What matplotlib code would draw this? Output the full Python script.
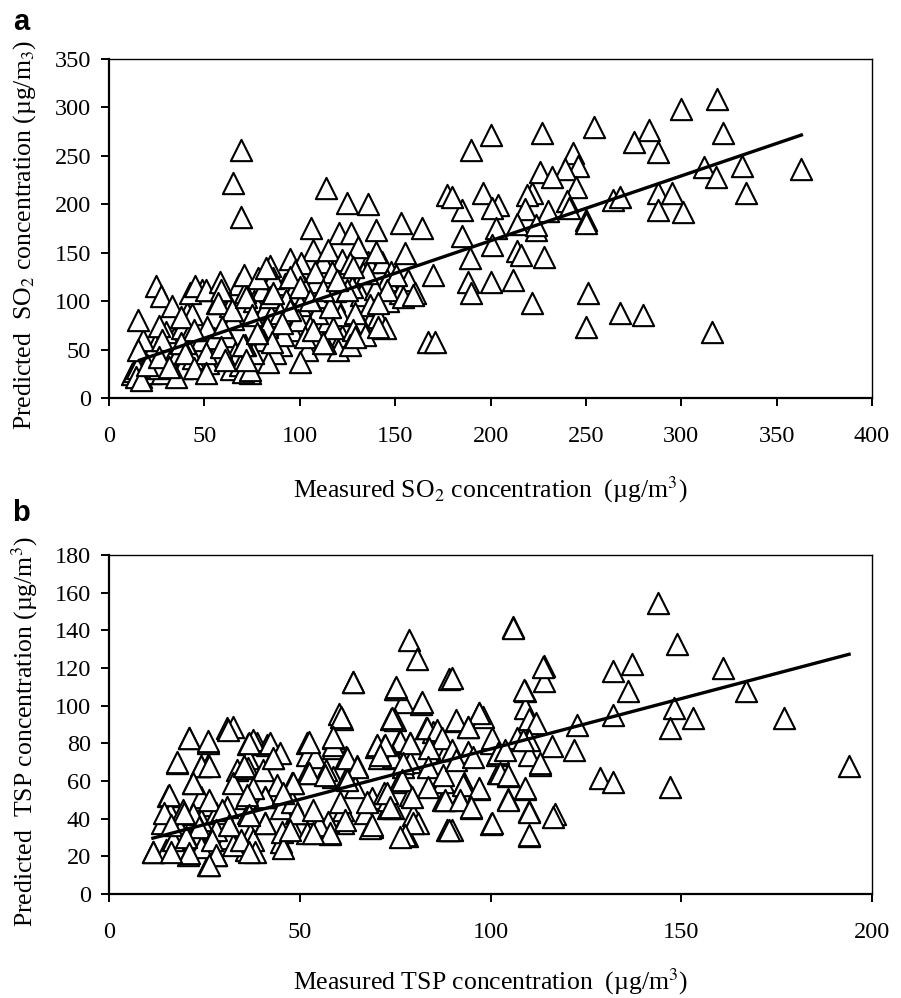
import numpy as np
import matplotlib
matplotlib.use("Agg")
import matplotlib.pyplot as plt

plt.rcParams['font.family'] = ['Liberation Serif', 'DejaVu Serif']
plt.rcParams['mathtext.fontset'] = 'stix'

# panel a: measured vs predicted SO2 (ug/m3)
so2_points = [
    # sparse / outlying points
    (69, 256), (65, 222), (69, 187), (114, 217), (125, 201), (136, 200), (106, 175),
    (140, 173), (153, 181), (164, 175), (170, 127), (167, 58), (171, 58), (177, 210),
    (190, 256), (200, 272), (227, 274), (254, 280), (300, 298), (319, 309), (322, 274),
    (283, 277), (275, 264), (288, 254), (243, 253), (246, 240), (239, 236), (226, 233),
    (232, 228), (312, 238), (318, 228), (332, 240), (334, 212), (363, 236), (245, 218),
    (240, 203), (222, 212), (219, 210), (218, 195), (196, 212), (204, 199), (201, 196),
    (185, 194), (180, 208), (230, 193), (241, 196), (288, 212), (295, 212), (288, 194),
    (301, 192), (264, 204), (268, 208), (250, 184), (250, 181), (203, 175), (214, 180),
    (224, 173), (224, 179), (185, 167), (201, 158), (214, 152), (216, 148), (228, 146),
    (189, 145), (188, 120), (190, 108), (200, 120), (212, 122), (222, 98), (251, 108),
    (250, 73), (268, 88), (280, 86), (316, 68),
    # dense cloud
    (12, 25), (13, 28), (17, 22), (19, 40), (22, 45), (22, 26), (24, 55), (18, 60),
    (30, 48), (32, 38), (28, 26), (36, 45), (34, 62), (30, 68), (38, 72), (48, 60),
    (52, 36), (55, 62), (62, 64), (66, 46), (64, 30), (60, 110), (66, 105), (68, 118),
    (76, 100), (80, 112), (82, 92), (88, 96), (92, 118), (96, 108), (104, 88), (108, 120),
    (112, 140), (118, 100), (122, 64), (132, 106), (136, 140), (143, 140), (148, 130),
    (150, 118), (146, 100), (138, 84), (132, 76), (120, 50), (115, 80), (100, 96),
    (90, 55), (85, 85), (96, 70), (104, 50),
    (120.6, 170), (126.7, 170), (107, 153), (115, 153), (130.7, 156), (140, 151),
    (155, 150), (95, 144), (84.4, 136), (100.5, 139), (122, 142), (126.4, 139),
    (86, 123.5), (98, 128.7), (108, 130), (116.8, 130), (133, 128.7), (145.6, 122),
    (157, 122), (160.4, 108), (84.4, 104.6), (102, 115), (110.6, 104.6), (118.5, 110),
    (127.2, 115), (139.5, 113), (152.6, 108), (93, 101), (136.9, 96), (89.7, 87.4),
    (99.3, 80.5), (109, 87.4), (121, 85.7), (129, 87.4), (141, 84), (144.7, 72),
    (128, 70), (105.4, 73.6), (91.4, 65), (82.7, 73.6), (113, 56.4), (126.4, 54.7),
    (134.2, 65), (87, 46), (100.2, 37.5), (102.8, 63), (80.6, 59.9), (83.6, 37.5),
    (14.5, 30.8), (38.4, 30.8), (44, 41), (40, 56.5), (43, 70), (40.7, 87.4),
    (48.6, 111), (56.5, 97.7), (65, 82), (71.3, 109), (63.5, 95), (86, 108),
    (97.5, 131), (135, 128.7), (150.7, 127), (95, 125), (100, 115), (124.6, 111.5),
    (145.6, 111.5), (141.2, 97.7), (141.2, 73.6), (115.8, 94), (105.4, 101), (95, 90.5),
    (112.4, 111), (119.4, 121.8), (128, 135.6), (90.5, 77), (117.5, 72), (107, 70),
    (75.7, 46), (68.7, 34), (73.9, 25.5), (78.3, 67), (71.3, 55), (85.3, 58),
    (112.4, 56.5), (129, 63.3), (154, 104.6), (159.3, 106),
    (15, 81), (24.5, 116), (27, 105), (33, 95), (26, 74), (15, 50), (14, 22),
    (16.6, 18.6), (26, 30.6), (35, 22), (42.5, 108), (45, 116), (50.7, 111.5),
    (58, 120), (58.5, 111), (71, 127), (78, 123.5), (82.5, 134), (57, 98), (64.6, 91),
    (71.6, 104.6), (75, 85.7), (43.7, 87), (37.6, 84), (51.5, 73.6), (59.4, 73.6),
    (44.5, 70), (28, 60), (37.6, 56.4), (50.7, 46), (58.5, 53), (70, 54.7),
    (77.7, 66.8), (40, 46), (44.5, 30.6), (50.7, 25.5), (70, 27), (74, 29), (20, 34),
    (26, 42.7), (61, 39), (71.6, 39), (31.4, 32),
]

# panel b: measured vs predicted TSP (ug/m3)
tsp_points = [
    (144, 154.5), (106, 142), (149, 133), (114, 121), (114, 113), (137, 122),
    (132, 118.5), (161, 120), (136, 108), (167, 108), (109, 108), (109, 99), (110, 93),
    (112, 91), (148, 99), (153, 93.5), (177, 93.5), (132, 95), (122.6, 89.7), (147, 88),
    (122, 76.5), (116, 78.6), (113, 68.5), (194, 68), (128.7, 61.6), (132, 59.5),
    (147, 56.8), (109, 55.7), (104.6, 62.6), (102, 64), (97, 56), (104.6, 50.4),
    (110, 44), (117, 42.5), (100, 37), (110, 31), (92, 50.4), (95, 45.6), (93, 59),
    (90, 34), (97, 96), (98, 94), (91, 92), (94, 88.7), (100, 80), (101.7, 74),
    (107, 83), (110, 81.7), (110, 74), (89, 114),
    (78.6, 135), (80.7, 125), (64, 112.6), (75, 109), (77, 102), (81.7, 101),
    (60.4, 95.6), (61, 93), (74, 93), (31, 88), (32.5, 88.7), (21, 82.8), (26, 80),
    (36.5, 79.6), (38.7, 80), (41.4, 79), (52, 80), (58.7, 83), (70, 78), (72, 78.6),
    (76, 80.7), (79, 80), (83, 88), (85, 86), (17.8, 69.6), (24, 68), (26, 68.5),
    (43, 72), (36.5, 72), (33.5, 66), (36.5, 67), (40.4, 66), (52, 74), (54, 73),
    (58.7, 77.5), (62, 73), (65, 68), (70.8, 72), (75, 72), (79, 70), (77, 67.5),
    (15.5, 52), (22, 59), (24, 51.6), (26, 47), (32.5, 59), (36, 51), (41, 51.6),
    (44, 58), (48, 59), (52, 64), (58.7, 62), (62, 61.6), (57, 66), (64.5, 57),
    (69, 51), (72, 53.6), (76, 59.5), (79, 52.6), (73, 45.6), (79.7, 42), (81, 37.7),
    (78, 30.8), (69, 35.6), (61.4, 37.7), (58, 31.9), (53.5, 43), (49, 43), (48, 35.6),
    (45, 27.6), (41, 37.7), (37, 31.9), (36, 23.4), (31.7, 35.6), (31, 29.7),
    (28, 20.7), (26, 15.4), (20.7, 20.7), (11.5, 22.3), (15, 23.4), (16, 43),
    (14, 37.7), (18.6, 34), (23, 31.3), (24, 39.3), (19.4, 44.6), (22, 42.5),
    (28, 43), (31, 46), (36.5, 43), (45, 45.6), (48, 48.8), (57.5, 38), (61.4, 44.6),
    (67, 43), (73, 50), (68.4, 35), (88.6, 34), (87.6, 50), (87.6, 59.5), (88.6, 76.5),
    (20.4, 29.7), (16.8, 28.7), (37.8, 28.7), (32.5, 26), (24, 25), (45.3, 33),
    (52, 32.4), (55, 36.6),
    (90, 114.5), (105.8, 141), (113.8, 120.7), (108.9, 108.3), (75.2, 109), (82, 102),
    (75, 92.4), (97, 96), (91, 92.4), (83.3, 88), (86, 87), (87.4, 82.7), (94.2, 88.9),
    (76.3, 81), (79, 80), (84, 77.4), (90, 76.5), (94.2, 75.6), (100.3, 82.7),
    (102, 74.7), (103.8, 76.5), (108.6, 81.8), (113, 69.4), (74.5, 73), (77.1, 69.4),
    (83.7, 67.6), (87.6, 63.2), (91, 71), (95.5, 73), (102.5, 64), (104.7, 63.2),
    (76.7, 60.5), (83.7, 57), (92.9, 57.9), (97, 56.1), (109, 56.1), (88, 50), (92, 50),
    (95, 46.4), (104.7, 50), (110, 43.7), (79.3, 51.7), (74.5, 45.5), (79.8, 37.5),
    (77.6, 31.3), (89, 34), (100.3, 37.5), (110, 31.3), (116.5, 41),
    (63.9, 112.8), (60.7, 94.2), (75.2, 110), (74.1, 93.3), (52.3, 80.9), (37.8, 81.8),
    (42.2, 80), (44.8, 74.7), (43, 72), (58.6, 79.1), (58.8, 83.5), (70.2, 79.1),
    (72.4, 79.1), (71, 73.8), (52.3, 64.1), (48.3, 58.8), (56.6, 63.2), (62.3, 72),
    (65, 67.6), (62.3, 60.5), (67.6, 49), (72.8, 53.5), (73.7, 46.4), (40.9, 51.7),
    (37.8, 56.1), (45.7, 53.5), (49.2, 42.8), (53.6, 44.6), (60.6, 49), (61.9, 39.3),
    (57.9, 32.2), (68.9, 36.6), (45.7, 24.3), (40.9, 37.5), (38.3, 22.5), (47.4, 34),
    (53.6, 32.2), (76.3, 30.5),
    (31.3, 87), (21, 82.7), (26, 81), (17.9, 70.3), (24, 68), (26.2, 68), (36.7, 80),
    (35.4, 67.7), (21.9, 58.8), (15.7, 52.6), (26.2, 50), (36.3, 52.6), (14.4, 42.9),
    (19.7, 42.9), (29.7, 44.7), (36.7, 42), (16.2, 36.7), (23.6, 35.8), (28, 34),
    (31.5, 36.7), (20.1, 30.5), (27.1, 28.7), (34.5, 28.7), (11.4, 22.5), (21, 21.6),
    (28, 20.7), (26.2, 15.4), (16.2, 22.5), (36.7, 22.5),
]

# linear trend lines (slope, intercept, x range)
so2_fit = (0.67, 28.3, 16, 363)
tsp_fit = (0.535, 23.5, 11.5, 194)

so2_ylabel = r'Predicted  SO$_2$ concentration (µg/m$_3$)'
so2_xlabel = r'Measured SO$_2$ concentration  (µg/m$^3$)'
tsp_ylabel = r'Predicted  TSP concentration (µg/m$^3$)'
tsp_xlabel = r'Measured TSP concentration  (µg/m$^3$)'


def draw_panel(ax, points, fit, xmax, ymax, xstep, ystep, xlabel, ylabel, xlab_y):
    pts = np.array(points)
    ax.scatter(pts[:, 0], pts[:, 1], marker='^', s=235, facecolors='white',
               edgecolors='black', linewidths=1.5, zorder=2)
    slope, icpt, x0, x1 = fit
    xs = np.array([x0, x1])
    ax.plot(xs, icpt + slope * xs, color='black', lw=2.4, zorder=3)

    ax.set_xlim(0, xmax)
    ax.set_ylim(0, ymax)
    ax.set_xticks(np.arange(0, xmax + 1, xstep))
    ax.set_yticks(np.arange(0, ymax + 1, ystep))
    ax.tick_params(direction='out', length=6, width=1.4, labelsize=17.5)
    ax.tick_params(axis='x', pad=14)
    ax.tick_params(axis='y', pad=7)
    for s in ['left', 'bottom']:
        ax.spines[s].set_linewidth(1.6)
    for s in ['top', 'right']:
        ax.spines[s].set_linewidth(1.0)

    ax.set_xlabel(xlabel, fontsize=18.5, va='center')
    ax.xaxis.set_label_coords(0.5, xlab_y)
    ax.set_ylabel(ylabel, fontsize=18.5, va='center')
    ax.yaxis.set_label_coords(-0.111, 0.48)


fig = plt.figure(figsize=(9.01, 9.98), dpi=100)
ax_a = fig.add_axes([0.121, 0.6012, 0.8468, 0.3397])
ax_b = fig.add_axes([0.121, 0.1042, 0.8468, 0.3397])

draw_panel(ax_a, so2_points, so2_fit, 400, 350, 50, 50, so2_xlabel, so2_ylabel, -0.27)
draw_panel(ax_b, tsp_points, tsp_fit, 200, 180, 50, 20, tsp_xlabel, tsp_ylabel, -0.258)

fig.text(0.015, 0.992, 'a', fontsize=21, fontweight='bold',
         family=['Liberation Sans', 'DejaVu Sans'], va='top')
fig.text(0.013, 0.500, 'b', fontsize=21, fontweight='bold',
         family=['Liberation Sans', 'DejaVu Sans'], va='top')

fig.savefig('out.png', dpi=100)
